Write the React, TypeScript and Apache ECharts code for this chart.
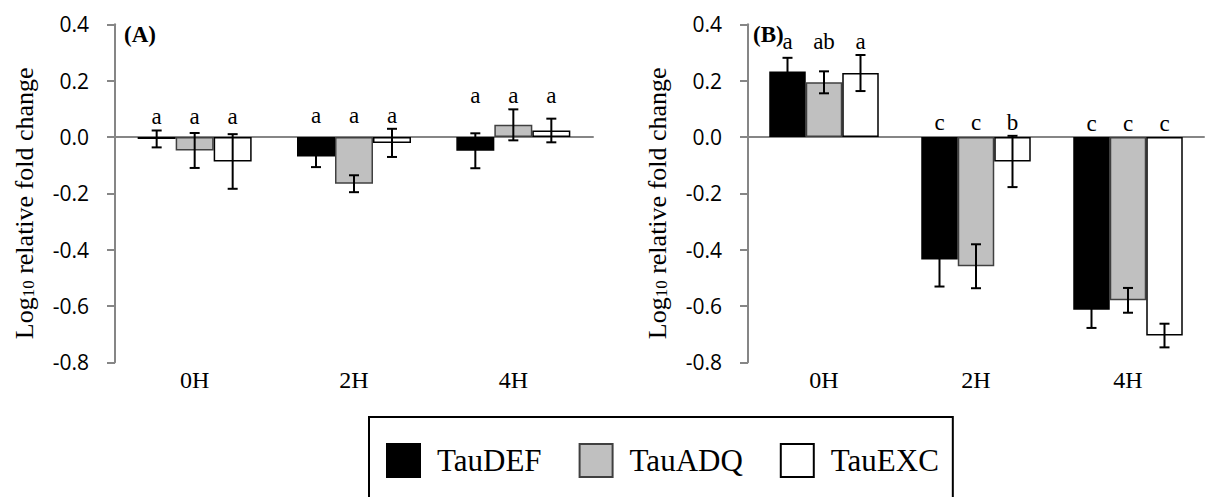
import React, { useEffect, useRef } from "react";
import * as echarts from "echarts";

const categories = ["0H", "2H", "4H"];
const seriesNames = ["TauDEF", "TauADQ", "TauEXC"];
const yTicks = { min: -0.8, max: 0.4, interval: 0.2 };

// Panel A
const defA = [-0.007, -0.069, -0.049];
const defAErr = [0.03, 0.038, 0.062];
const adqA = [-0.048, -0.166, 0.043];
const adqAErr = [0.062, 0.03, 0.055];
const excA = [-0.087, -0.021, 0.023];
const excAErr = [0.097, 0.05, 0.042];
const defALetters = ["a", "a", "a"];
const adqALetters = ["a", "a", "a"];
const excALetters = ["a", "a", "a"];

// Panel B
const defB = [0.232, -0.435, -0.613];
const defBErr = [0.049, 0.096, 0.065];
const adqB = [0.194, -0.459, -0.58];
const adqBErr = [0.039, 0.078, 0.044];
const excB = [0.227, -0.087, -0.705];
const excBErr = [0.064, 0.091, 0.042];
const defBLetters = ["a", "c", "c"];
const adqBLetters = ["ab", "c", "c"];
const excBLetters = ["a", "b", "c"];

const colors = ["#000000", "#C0C0C0", "#FFFFFF"];
const borders = ["#000000", "#404040", "#000000"];
const SERIF = "Liberation Serif";
const SANS = "Open Sans";

export default function App() {
  const ref = useRef<HTMLDivElement>(null);
  useEffect(() => {
    if (!ref.current) return;
    const chart = echarts.init(ref.current, undefined, { renderer: "svg" });

    const panels = [
      {
        vals: [defA, adqA, excA],
        errs: [defAErr, adqAErr, excAErr],
        letters: [defALetters, adqALetters, excALetters],
        bw: 38,
      },
      {
        vals: [defB, adqB, excB],
        errs: [defBErr, adqBErr, excBErr],
        letters: [defBLetters, adqBLetters, excBLetters],
        bw: 36.5,
      },
    ];

    const series: any[] = [];
    panels.forEach((p, gi) => {
      p.vals.forEach((vals, si) => {
        series.push({
          type: "bar",
          name: seriesNames[si],
          xAxisIndex: gi,
          yAxisIndex: gi,
          data: vals,
          barWidth: p.bw,
          barGap: "0%",
          itemStyle: {
            color: colors[si],
            borderColor: borders[si],
            borderWidth: 1.5,
          },
          z: 2,
        });
      });
      const groupTop = categories.map((_, ci) =>
        Math.max(0, ...p.vals.map((v, si) => v[ci] + p.errs[si][ci]))
      );
      const rows: any[] = [];
      p.vals.forEach((vals, si) => {
        vals.forEach((v, ci) => {
          rows.push({
            value: [ci, v, p.errs[si][ci], si, groupTop[ci]],
            letter: p.letters[si][ci],
          });
        });
      });
      const bw = p.bw;
      series.push({
        type: "custom",
        xAxisIndex: gi,
        yAxisIndex: gi,
        z: 5,
        silent: true,
        data: rows.map((r) => r.value),
        renderItem: (params: any, api: any) => {
          const ci = api.value(0);
          const v = api.value(1);
          const e = api.value(2);
          const si = api.value(3);
          const top = api.value(4);
          const base = api.coord([ci, v]);
          const x = base[0] + (si - 1) * bw;
          const yHi = api.coord([ci, v + e])[1];
          const yLo = api.coord([ci, v - e])[1];
          const yTop = api.coord([ci, top])[1];
          const cap = 5;
          const ls = { stroke: "#000", lineWidth: 2 };
          return {
            type: "group",
            children: [
              { type: "line", shape: { x1: x, y1: yHi, x2: x, y2: yLo }, style: ls },
              { type: "line", shape: { x1: x - cap, y1: yHi, x2: x + cap, y2: yHi }, style: ls },
              { type: "line", shape: { x1: x - cap, y1: yLo, x2: x + cap, y2: yLo }, style: ls },
              {
                type: "text",
                x: x,
                y: yTop - 2,
                style: {
                  text: rows[params.dataIndex].letter,
                  fontFamily: SERIF,
                  fontSize: 23,
                  fill: "#000",
                  align: "center",
                  verticalAlign: "bottom",
                },
              },
            ],
          };
        },
      });
    });

    const yAxisCfg = (gi: number) => ({
      type: "value",
      gridIndex: gi,
      min: yTicks.min,
      max: yTicks.max,
      interval: yTicks.interval,
      name: "{a|Log}{s|10}{a| relative fold change}",
      nameLocation: "middle",
      nameGap: 78,
      nameTextStyle: {
        padding: [0, 20, 0, 0],
        rich: {
          a: { fontFamily: SERIF, fontSize: 26, color: "#000", verticalAlign: "bottom", lineHeight: 30 },
          s: { fontFamily: SERIF, fontSize: 17, color: "#000", verticalAlign: "bottom", lineHeight: 14 },
        },
      },
      axisLine: { show: true, lineStyle: { color: "#868686", width: 2 } },
      axisTick: { show: true, length: 8, lineStyle: { color: "#868686", width: 2 } },
      splitLine: { show: false },
      axisLabel: {
        margin: 26,
        fontFamily: SANS,
        fontSize: 21,
        color: "#000",
        formatter: (v: number) => v.toFixed(1),
      },
    });

    const xAxisCfg = (gi: number) => ({
      type: "category",
      gridIndex: gi,
      data: categories,
      axisLine: { onZero: true, lineStyle: { color: "#868686", width: 2 } },
      axisTick: { show: false },
      axisLabel: {
        margin: 6,
        fontFamily: SERIF,
        fontSize: 24,
        color: "#000",
      },
    });

    chart.setOption({
      animation: false,
      backgroundColor: "#fff",
      title: [
        {
          text: "(A)",
          left: 119,
          top: 18,
          textStyle: { fontFamily: SERIF, fontWeight: "bold", fontSize: 23, color: "#000" },
        },
        {
          text: "(B)",
          left: 748,
          top: 18,
          textStyle: { fontFamily: SERIF, fontWeight: "bold", fontSize: 23, color: "#000" },
        },
      ],
      legend: {
        data: seriesNames,
        left: 369,
        top: 417,
        orient: "horizontal",
        itemWidth: 33,
        itemHeight: 33,
        itemGap: 37,
        padding: [26, 14, 26, 17],
        borderColor: "#000",
        borderWidth: 2,
        icon: "rect",
        textStyle: { fontFamily: SERIF, fontSize: 31, color: "#000", padding: [0, 0, 0, 12] },
      },
      grid: [
        { left: 115, top: 24.3, width: 478, height: 338, outerBoundsMode: "none", containLabel: false },
        { left: 748, top: 24.3, width: 456, height: 338, outerBoundsMode: "none", containLabel: false },
      ],
      xAxis: [xAxisCfg(0), xAxisCfg(1)],
      yAxis: [yAxisCfg(0), yAxisCfg(1)],
      series,
    });
    return () => chart.dispose();
  }, []);
  return (
    <div
      ref={ref}
      style={{ position: "fixed", left: 0, top: 0, width: 1205, height: 497, background: "#fff" }}
    />
  );
}
